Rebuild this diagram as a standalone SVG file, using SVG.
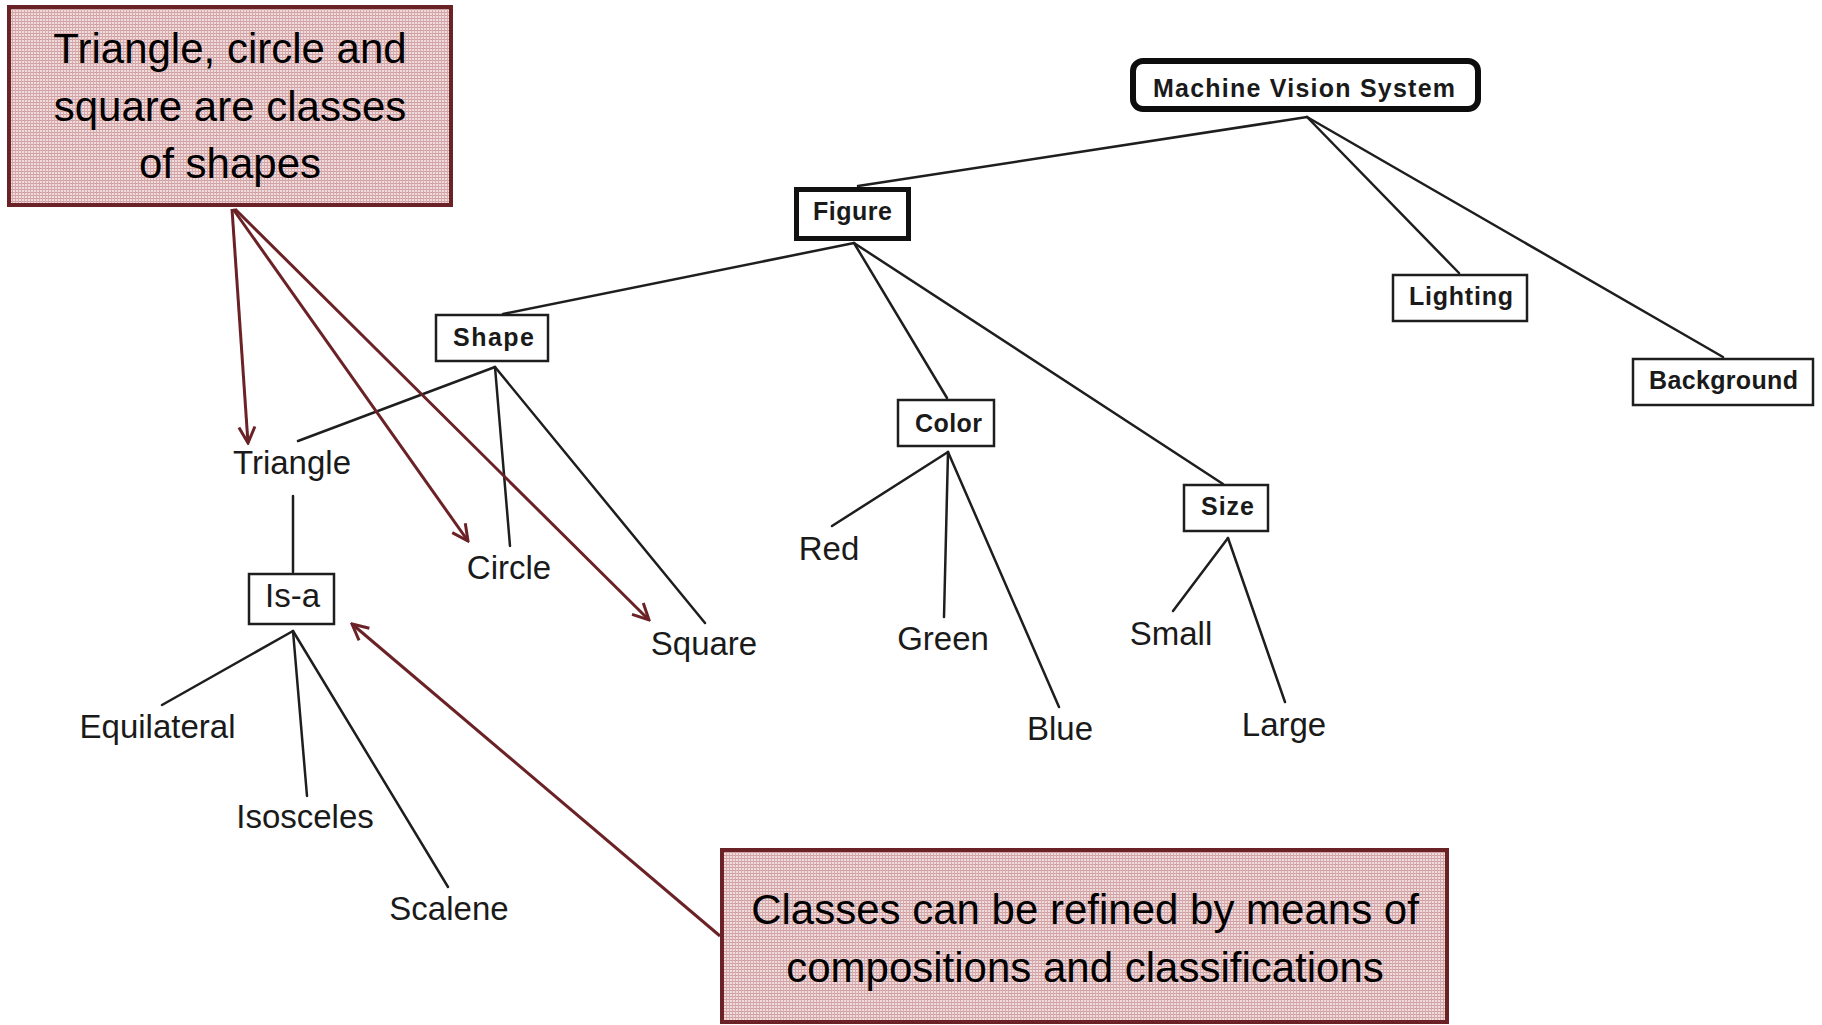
<svg xmlns="http://www.w3.org/2000/svg" width="1822" height="1025" viewBox="0 0 1822 1025">
  <style>
    .box { fill: #ffffff; stroke: #1e1e1e; stroke-width: 2.5; }
    .box-thick { fill: #ffffff; stroke: #111111; stroke-width: 5; }
    .lbl-bold { font-family: "Liberation Sans", Arial, sans-serif; font-weight: bold; font-size: 25px; fill: #1a1a1a; text-anchor: middle; }
    .lbl { font-family: "Liberation Sans", Arial, sans-serif; font-size: 33px; fill: #1a1a1a; text-anchor: middle; }
    .edge { stroke: #1e1e1e; stroke-width: 2.5; fill: none; stroke-linecap: round; }
    .note { fill: url(#weave); stroke: #6b2226; stroke-width: 4; }
    .note-text { font-family: "Liberation Sans", Arial, sans-serif; font-size: 42px; fill: #000000; text-anchor: middle; }
    .pointer { stroke: #6b2226; stroke-width: 3; fill: none; marker-end: url(#openhead); }
  </style>
  <defs>
    <!-- woven pink texture for the note boxes -->
    <pattern id="weave" width="3" height="3" patternUnits="userSpaceOnUse">
      <rect width="3" height="3" fill="#f1dcdd"/>
      <rect x="0" y="0" width="3" height="1" fill="#cf9fa2"/>
      <rect x="0" y="0" width="1" height="3" fill="#d6abae"/>
    </pattern>
    <marker id="openhead" viewBox="0 0 20 20" refX="18" refY="10" markerWidth="20" markerHeight="20" markerUnits="userSpaceOnUse" orient="auto">
      <path d="M2,2 L18,10 L2,18" fill="none" stroke="#6b2226" stroke-width="3" stroke-linejoin="miter"/>
    </marker>
  </defs>

  <rect width="1822" height="1025" fill="#ffffff"/>

  <!-- tree edges -->
  <g id="connectors">
    <line class="edge" x1="1307" y1="117" x2="858" y2="186"/>
    <line class="edge" x1="1307" y1="117" x2="1459" y2="273"/>
    <line class="edge" x1="1307" y1="117" x2="1723" y2="357"/>
    <line class="edge" x1="854" y1="243" x2="503" y2="314"/>
    <line class="edge" x1="854" y1="243" x2="947" y2="398"/>
    <line class="edge" x1="854" y1="243" x2="1223" y2="484"/>
    <line class="edge" x1="495" y1="367" x2="298" y2="441"/>
    <line class="edge" x1="495" y1="367" x2="510" y2="546"/>
    <line class="edge" x1="495" y1="367" x2="705" y2="623"/>
    <line class="edge" x1="293" y1="496" x2="293" y2="572"/>
    <line class="edge" x1="293" y1="631" x2="162" y2="705"/>
    <line class="edge" x1="293" y1="631" x2="307" y2="796"/>
    <line class="edge" x1="293" y1="631" x2="448" y2="887"/>
    <line class="edge" x1="948" y1="452" x2="832" y2="526"/>
    <line class="edge" x1="948" y1="452" x2="944" y2="617"/>
    <line class="edge" x1="948" y1="452" x2="1059" y2="707"/>
    <line class="edge" x1="1228" y1="538" x2="1173" y2="611"/>
    <line class="edge" x1="1228" y1="538" x2="1285" y2="702"/>
  </g>

  <!-- boxed nodes -->
  <g id="node-machine-vision-system">
    <rect x="1133" y="61" width="345" height="48" rx="10" ry="10" fill="#ffffff" stroke="#0d0d0d" stroke-width="6"/>
    <text class="lbl-bold" x="1304" y="97" font-size="27" textLength="302" lengthAdjust="spacing">Machine Vision System</text>
  </g>
  <g id="node-figure">
    <rect class="box-thick" x="796.5" y="189.5" width="112" height="49"/>
    <text class="lbl-bold" x="852.5" y="220" textLength="79" lengthAdjust="spacing">Figure</text>
  </g>
  <g id="node-shape">
    <rect class="box" x="436" y="315" width="112" height="46"/>
    <text class="lbl-bold" x="493.5" y="346" textLength="81" lengthAdjust="spacing">Shape</text>
  </g>
  <g id="node-lighting">
    <rect class="box" x="1393" y="275" width="134" height="46"/>
    <text class="lbl-bold" x="1461" y="305" textLength="104" lengthAdjust="spacing">Lighting</text>
  </g>
  <g id="node-background">
    <rect class="box" x="1633" y="359" width="180" height="46"/>
    <text class="lbl-bold" x="1723.5" y="389" textLength="149" lengthAdjust="spacing">Background</text>
  </g>
  <g id="node-color">
    <rect class="box" x="898" y="400" width="96" height="46"/>
    <text class="lbl-bold" x="948.5" y="432" textLength="67" lengthAdjust="spacing">Color</text>
  </g>
  <g id="node-size">
    <rect class="box" x="1184" y="485" width="84" height="46"/>
    <text class="lbl-bold" x="1227.5" y="515" textLength="53" lengthAdjust="spacing">Size</text>
  </g>
  <g id="node-is-a">
    <rect class="box" x="249" y="574" width="85" height="50"/>
    <text class="lbl" x="292.5" y="607">Is-a</text>
  </g>

  <!-- plain text nodes -->
  <g id="node-triangle"><text class="lbl" x="292" y="474">Triangle</text></g>
  <g id="node-circle"><text class="lbl" x="509" y="579">Circle</text></g>
  <g id="node-square"><text class="lbl" x="704" y="655">Square</text></g>
  <g id="node-equilateral"><text class="lbl" x="157.5" y="738">Equilateral</text></g>
  <g id="node-isosceles"><text class="lbl" x="305" y="828">Isosceles</text></g>
  <g id="node-scalene"><text class="lbl" x="449" y="920">Scalene</text></g>
  <g id="node-red"><text class="lbl" x="829" y="560">Red</text></g>
  <g id="node-green"><text class="lbl" x="943" y="650">Green</text></g>
  <g id="node-blue"><text class="lbl" x="1060" y="740">Blue</text></g>
  <g id="node-small"><text class="lbl" x="1171" y="645">Small</text></g>
  <g id="node-large"><text class="lbl" x="1284" y="736">Large</text></g>

  <!-- annotation pointers -->
  <g id="note-connectors">
    <line class="pointer" x1="232" y1="209" x2="248" y2="443"/>
    <line class="pointer" x1="233" y1="209" x2="468" y2="541"/>
    <line class="pointer" x1="235" y1="209" x2="649" y2="620"/>
    <line class="pointer" x1="720" y1="936" x2="352" y2="624"/>
  </g>

  <!-- annotation notes -->
  <g id="note-classes-of-shapes">
    <rect class="note" x="9" y="7" width="442" height="198"/>
    <text class="note-text" x="230" y="63">Triangle, circle and</text>
    <text class="note-text" x="230" y="121">square are classes</text>
    <text class="note-text" x="230" y="178">of shapes</text>
  </g>
  <g id="note-refinement">
    <rect class="note" x="722" y="850" width="725" height="172"/>
    <text class="note-text" x="1085" y="924">Classes can be refined by means of</text>
    <text class="note-text" x="1085" y="982">compositions and classifications</text>
  </g>
</svg>
